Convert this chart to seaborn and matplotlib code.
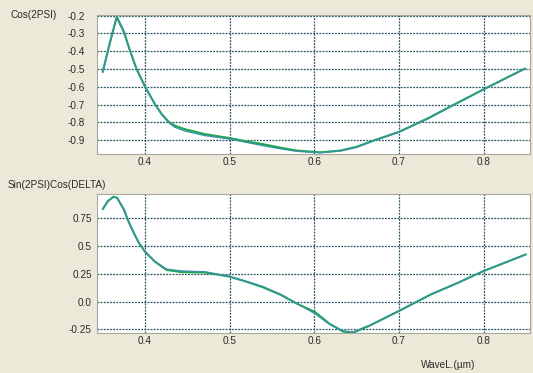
import numpy as np
import pandas as pd
import matplotlib
matplotlib.use("Agg")
import matplotlib.pyplot as plt
import seaborn as sns

# Cos(2PSI) panel: measured (green) and model (teal)
wl_top = [0.350, 0.358, 0.3665, 0.375, 0.382, 0.390, 0.400, 0.412, 0.420, 0.4276,
          0.435, 0.447, 0.471, 0.500, 0.518, 0.539, 0.560, 0.579, 0.607, 0.631,
          0.650, 0.671, 0.700, 0.735, 0.765, 0.800, 0.849]
cos_meas = [-0.515, -0.36, -0.206, -0.29, -0.393, -0.50, -0.599, -0.70, -0.755, -0.795,
            -0.818, -0.838, -0.866, -0.888, -0.905, -0.922, -0.942, -0.958, -0.968, -0.958,
            -0.937, -0.900, -0.853, -0.775, -0.700, -0.614, -0.497]
cos_fit = [-0.520, -0.365, -0.212, -0.295, -0.398, -0.503, -0.601, -0.702, -0.757, -0.800,
           -0.826, -0.848, -0.874, -0.893, -0.910, -0.930, -0.948, -0.962, -0.970, -0.960,
           -0.940, -0.902, -0.855, -0.778, -0.702, -0.616, -0.499]

# Sin(2PSI)Cos(DELTA) panel
wl_bot = [0.350, 0.356, 0.3627, 0.367, 0.375, 0.380, 0.386, 0.392, 0.400, 0.412,
          0.4255, 0.443, 0.471, 0.498, 0.518, 0.539, 0.560, 0.579, 0.601, 0.618,
          0.634, 0.646, 0.666, 0.700, 0.738, 0.768, 0.800, 0.850]
sc_meas = [0.834, 0.905, 0.945, 0.935, 0.83, 0.73, 0.63, 0.539, 0.449, 0.358,
           0.285, 0.266, 0.262, 0.228, 0.184, 0.130, 0.062, -0.017, -0.095, -0.200,
           -0.270, -0.280, -0.215, -0.085, 0.065, 0.163, 0.275, 0.425]
sc_fit = [0.830, 0.903, 0.943, 0.933, 0.828, 0.728, 0.628, 0.537, 0.447, 0.358,
          0.292, 0.276, 0.268, 0.230, 0.186, 0.136, 0.066, -0.015, -0.110, -0.205,
          -0.265, -0.274, -0.212, -0.083, 0.067, 0.165, 0.276, 0.426]

sns.set_style("white")
plt.rcParams['font.family'] = ['Liberation Sans', 'DejaVu Sans']

bg = "#ECE9D8"
green = "#1ca64a"
teal = "#3a92a8"
grid_col = "#2a5560"
txt = "#2a2a2a"

fig = plt.figure(figsize=(5.33, 3.73), dpi=100, facecolor=bg)
ax1 = fig.add_axes([0.1826, 0.5863, 0.8118, 0.3743])
ax2 = fig.add_axes([0.1826, 0.1064, 0.8118, 0.3727])

# measured underneath (a bit wider), model on top
sns.lineplot(x=wl_top, y=cos_meas, color=green, linewidth=1.5, sort=False, ax=ax1)
sns.lineplot(x=wl_top, y=cos_fit, color=teal, linewidth=1.0, sort=False, ax=ax1)
sns.lineplot(x=wl_bot, y=sc_meas, color=green, linewidth=1.5, sort=False, ax=ax2)
sns.lineplot(x=wl_bot, y=sc_fit, color=teal, linewidth=1.0, sort=False, ax=ax2)

ax1.set_ylim(-0.979, -0.195)
ax1.set_yticks([-0.2, -0.3, -0.4, -0.5, -0.6, -0.7, -0.8, -0.9])
ax1.set_yticklabels(["-0.2", "-0.3", "-0.4", "-0.5", "-0.6", "-0.7", "-0.8", "-0.9"])
ax2.set_ylim(-0.286, 0.967)
ax2.set_yticks([0.75, 0.5, 0.25, 0.0, -0.25])
ax2.set_yticklabels(["0.75", "0.5", "0.25", "0.0", "-0.25"])

for ax, ypad in ((ax1, 9), (ax2, 4)):
    ax.set_facecolor("white")
    ax.set_xlim(0.3436, 0.8549)
    ax.set_xticks([0.4, 0.5, 0.6, 0.7, 0.8])
    ax.set_xticklabels(["0.4", "0.5", "0.6", "0.7", "0.8"])
    ax.grid(True, color=grid_col, linestyle=(0, (1.5, 1.0)), linewidth=0.9)
    ax.set_axisbelow(True)
    ax.tick_params(axis="both", length=0, labelsize=7.2, colors=txt)
    ax.tick_params(axis="y", pad=ypad)
    ax.tick_params(axis="x", pad=2)
    ax.set_xlabel("")
    ax.set_ylabel("")
    for s in ax.spines.values():
        s.set_color("#a8a8a0")
        s.set_linewidth(0.8)

fig.text(10 / 533, 1 - 15 / 373, "Cos(2PSI)", fontsize=7.2, color=txt, va="center")
fig.text(8 / 533, 1 - 185 / 373, "Sin(2PSI)Cos(DELTA)", fontsize=7.2, color=txt, va="center")
fig.text(448 / 533, 1 - 365 / 373, "WaveL.(\u00b5m)", fontsize=7.2, color=txt,
         va="center", ha="center")

fig.savefig("out.png", dpi=100, facecolor=bg)
